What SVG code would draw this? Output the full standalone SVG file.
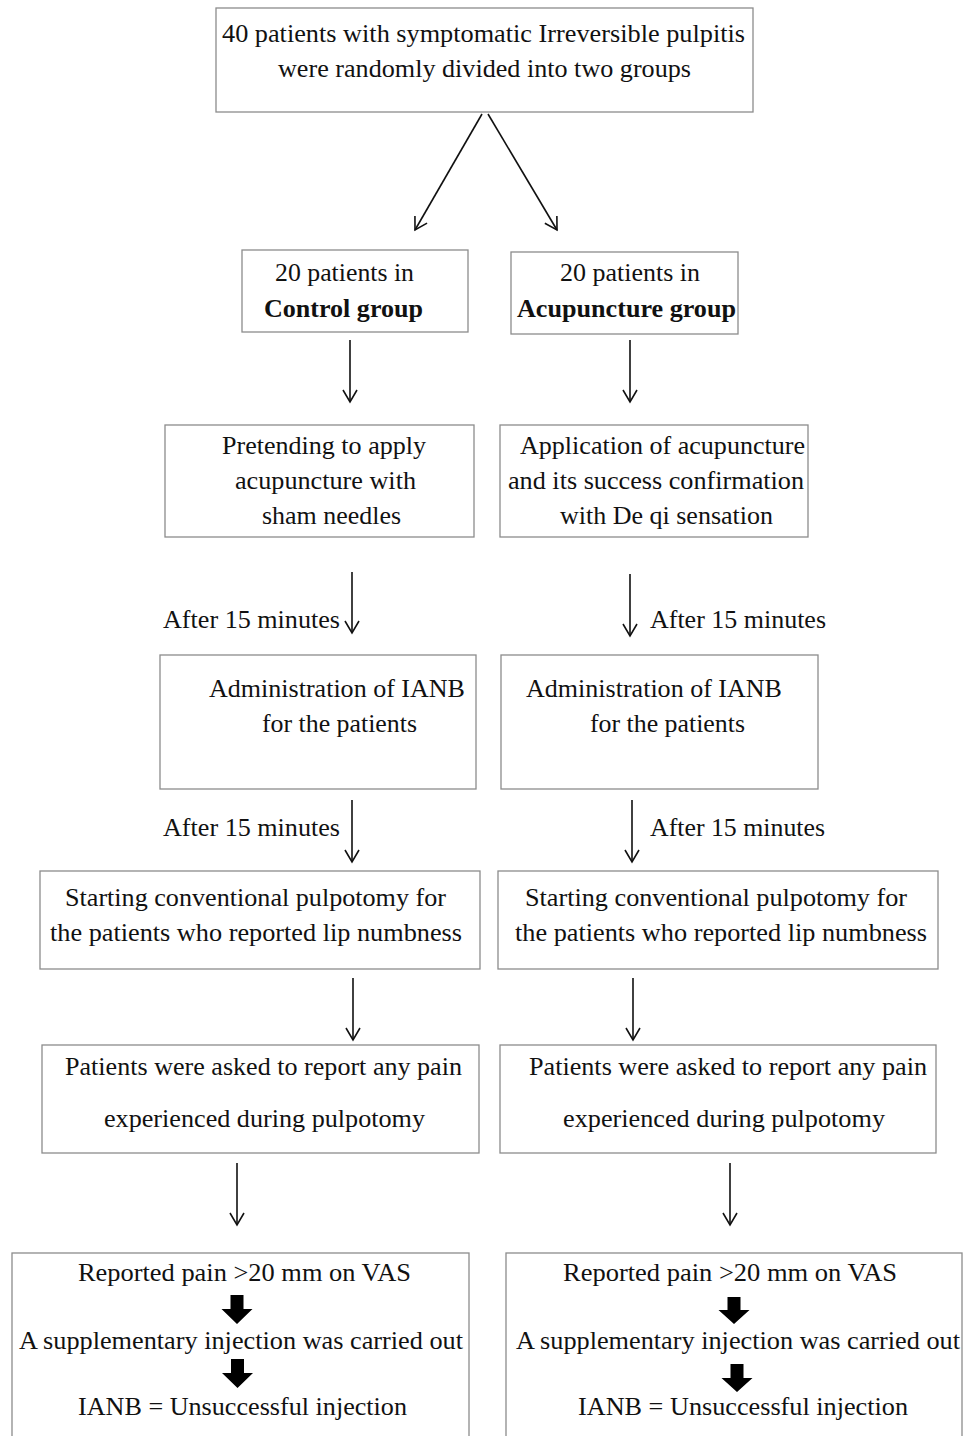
<svg xmlns="http://www.w3.org/2000/svg" width="965" height="1436" viewBox="0 0 965 1436">
<style>
.box{fill:#fff;stroke:#8c8c8c;stroke-width:1.3}
text{font-family:"Liberation Serif","Times New Roman",serif;font-size:26px;fill:#111}
.b{font-weight:bold}
.c{stroke:#111;stroke-width:1.6;fill:none}
.blk{fill:#000}
</style>
<defs>
<marker id="ah" markerUnits="userSpaceOnUse" markerWidth="18" markerHeight="18" refX="14" refY="7" orient="auto" overflow="visible">
<path d="M2,0 L14,7 L2,14" fill="none" stroke="#111" stroke-width="1.6"/>
</marker>
</defs>
<rect width="965" height="1436" fill="#fff"/>

<g id="n_top"><rect class="box" x="216" y="8" width="537" height="104"/>
<text x="222" y="42" textLength="523" lengthAdjust="spacingAndGlyphs">40 patients with symptomatic Irreversible pulpitis</text>
<text x="278" y="77" textLength="413" lengthAdjust="spacingAndGlyphs">were randomly divided into two groups</text></g>

<g id="n_control"><rect class="box" x="242" y="250" width="226" height="82"/>
<text x="275" y="281" textLength="139" lengthAdjust="spacingAndGlyphs">20 patients in</text>
<text class="b" x="264" y="317" textLength="159" lengthAdjust="spacingAndGlyphs">Control group</text></g>

<g id="n_acup"><rect class="box" x="511" y="252" width="227" height="82"/>
<text x="560" y="281" textLength="140" lengthAdjust="spacingAndGlyphs">20 patients in</text>
<text class="b" x="517" y="317" textLength="219" lengthAdjust="spacingAndGlyphs">Acupuncture group</text></g>

<g id="n_sham"><rect class="box" x="165" y="425" width="309" height="112"/>
<text x="222" y="454" textLength="204" lengthAdjust="spacingAndGlyphs">Pretending to apply</text>
<text x="235" y="489" textLength="181" lengthAdjust="spacingAndGlyphs">acupuncture with</text>
<text x="262" y="524" textLength="139" lengthAdjust="spacingAndGlyphs">sham needles</text></g>

<g id="n_apply"><rect class="box" x="500" y="425" width="308" height="112"/>
<text x="520" y="454" textLength="285" lengthAdjust="spacingAndGlyphs">Application of acupuncture</text>
<text x="508" y="489" textLength="296" lengthAdjust="spacingAndGlyphs">and its success confirmation</text>
<text x="560" y="524" textLength="213" lengthAdjust="spacingAndGlyphs">with De qi sensation</text></g>

<g id="n_ianb_l"><rect class="box" x="160" y="655" width="316" height="134"/>
<text x="209" y="697" textLength="256" lengthAdjust="spacingAndGlyphs">Administration of IANB</text>
<text x="262" y="732" textLength="155" lengthAdjust="spacingAndGlyphs">for the patients</text></g>

<g id="n_ianb_r"><rect class="box" x="501" y="655" width="317" height="134"/>
<text x="526" y="697" textLength="256" lengthAdjust="spacingAndGlyphs">Administration of IANB</text>
<text x="590" y="732" textLength="155" lengthAdjust="spacingAndGlyphs">for the patients</text></g>

<g id="n_pulp_l"><rect class="box" x="40" y="871" width="440" height="98"/>
<text x="65" y="906" textLength="381" lengthAdjust="spacingAndGlyphs">Starting conventional pulpotomy for</text>
<text x="50" y="941" textLength="412" lengthAdjust="spacingAndGlyphs">the patients who reported lip numbness</text></g>

<g id="n_pulp_r"><rect class="box" x="498" y="871" width="440" height="98"/>
<text x="525" y="906" textLength="382" lengthAdjust="spacingAndGlyphs">Starting conventional pulpotomy for</text>
<text x="515" y="941" textLength="412" lengthAdjust="spacingAndGlyphs">the patients who reported lip numbness</text></g>

<g id="n_pain_l"><rect class="box" x="42" y="1045" width="437" height="108"/>
<text x="65" y="1075" textLength="397" lengthAdjust="spacingAndGlyphs">Patients were asked to report any pain</text>
<text x="104" y="1127" textLength="321" lengthAdjust="spacingAndGlyphs">experienced during pulpotomy</text></g>

<g id="n_pain_r"><rect class="box" x="500" y="1045" width="436" height="108"/>
<text x="529" y="1075" textLength="398" lengthAdjust="spacingAndGlyphs">Patients were asked to report any pain</text>
<text x="563" y="1127" textLength="322" lengthAdjust="spacingAndGlyphs">experienced during pulpotomy</text></g>

<g id="n_vas_l"><rect class="box" x="12" y="1253" width="457" height="200"/>
<text x="78" y="1281" textLength="333" lengthAdjust="spacingAndGlyphs">Reported pain &gt;20 mm on VAS</text>
<path class="blk" d="M230.5,1295 h13 v14 h9 l-15.5,15 l-15.5,-15 h9 z"/>
<text x="19" y="1349" textLength="444" lengthAdjust="spacingAndGlyphs">A supplementary injection was carried out</text>
<path class="blk" d="M231,1359 h13 v14 h9 l-15.5,15 l-15.5,-15 h9 z"/>
<text x="78" y="1415" textLength="329" lengthAdjust="spacingAndGlyphs">IANB = Unsuccessful injection</text></g>

<g id="n_vas_r"><rect class="box" x="506" y="1253" width="456" height="200"/>
<text x="563" y="1281" textLength="334" lengthAdjust="spacingAndGlyphs">Reported pain &gt;20 mm on VAS</text>
<path class="blk" d="M727.5,1297 h13 v13 h9 l-15.5,14 l-15.5,-14 h9 z"/>
<text x="516" y="1349" textLength="444" lengthAdjust="spacingAndGlyphs">A supplementary injection was carried out</text>
<path class="blk" d="M730.5,1364 h13 v14 h9 l-15.5,14 l-15.5,-14 h9 z"/>
<text x="578" y="1415" textLength="330" lengthAdjust="spacingAndGlyphs">IANB = Unsuccessful injection</text></g>

<g id="connectors">
<line class="c" x1="482" y1="114" x2="415" y2="230" marker-end="url(#ah)"/>
<line class="c" x1="488" y1="114" x2="557" y2="230" marker-end="url(#ah)"/>
<line class="c" x1="350" y1="340" x2="350" y2="402" marker-end="url(#ah)"/>
<line class="c" x1="630" y1="340" x2="630" y2="402" marker-end="url(#ah)"/>
<line class="c" x1="352" y1="572" x2="352" y2="633" marker-end="url(#ah)"/>
<line class="c" x1="630" y1="574" x2="630" y2="636" marker-end="url(#ah)"/>
<line class="c" x1="352" y1="800" x2="352" y2="862" marker-end="url(#ah)"/>
<line class="c" x1="632" y1="800" x2="632" y2="862" marker-end="url(#ah)"/>
<line class="c" x1="353" y1="978" x2="353" y2="1040" marker-end="url(#ah)"/>
<line class="c" x1="633" y1="978" x2="633" y2="1040" marker-end="url(#ah)"/>
<line class="c" x1="237" y1="1163" x2="237" y2="1225" marker-end="url(#ah)"/>
<line class="c" x1="730" y1="1163" x2="730" y2="1225" marker-end="url(#ah)"/>
<text x="163" y="628" textLength="177" lengthAdjust="spacingAndGlyphs">After 15 minutes</text>
<text x="650" y="628" textLength="176" lengthAdjust="spacingAndGlyphs">After 15 minutes</text>
<text x="163" y="836" textLength="177" lengthAdjust="spacingAndGlyphs">After 15 minutes</text>
<text x="650" y="836" textLength="175" lengthAdjust="spacingAndGlyphs">After 15 minutes</text>
</g>
</svg>
